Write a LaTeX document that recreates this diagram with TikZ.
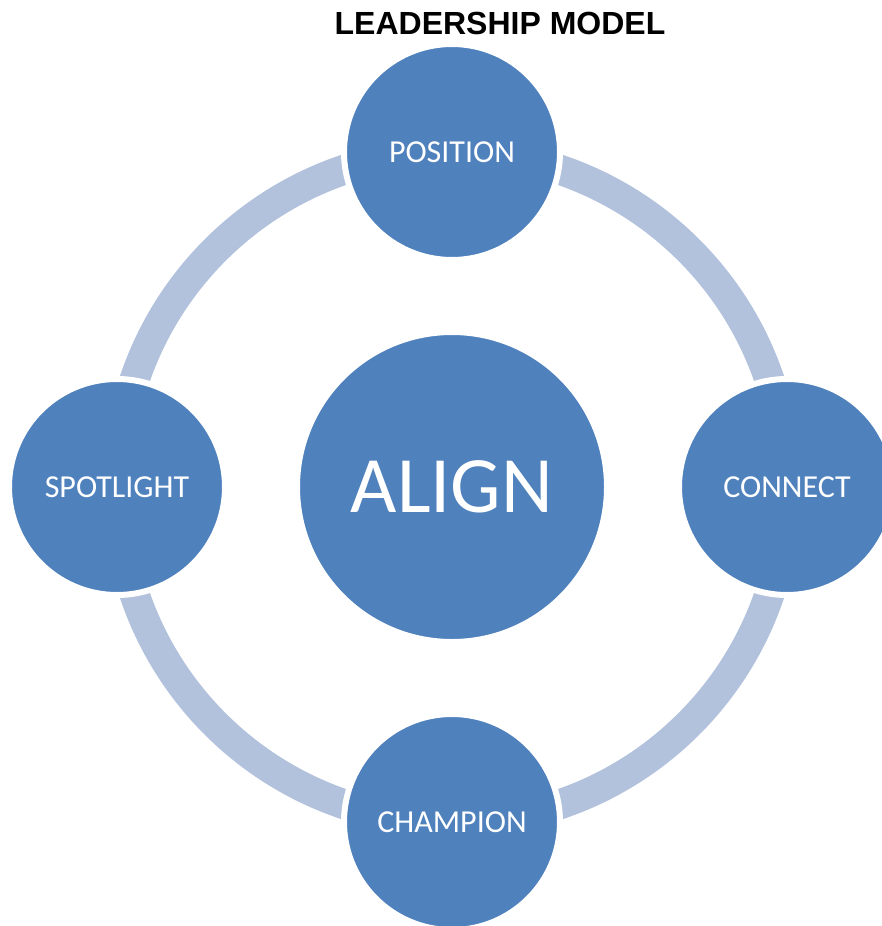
\documentclass[tikz,border=0pt]{standalone}
\usepackage{fontspec}
\setmainfont{Carlito}
\newfontfamily\titlefont{Liberation Sans}
\definecolor{hubblue}{HTML}{4F81BD}
\definecolor{ringblue}{HTML}{B2C1DC}
\tikzset{
  ringline/.style={draw=ringblue, line width=30pt},
  stage/.style={circle, fill=hubblue, draw=white, line width=6pt,
    minimum size=216pt, inner sep=0pt, text=white, font=\fontsize{32}{36}\selectfont},
  core/.style={stage, minimum size=310pt, font=\fontsize{80}{90}\selectfont},
  heading/.style={font=\titlefont\bfseries\fontsize{32}{36}\selectfont, text=black}
}
\begin{document}
\begin{tikzpicture}[x=1pt, y=-1pt]
  % page frame
  \useasboundingbox (0,0) rectangle (882,926);
  \clip (0,0) rectangle (882,926);
  \fill[white] (0,0) rectangle (882,926);

  % title
  \node[heading] (title) at (500,23) {LEADERSHIP MODEL};

  % centre hub and the ring that carries the four stages
  \node[core] (align) at (452,487) {ALIGN};
  \draw[ringline] (align.center) circle (335);

  % the four stages on the ring
  \node[stage] (position)  at (452,152) {POSITION};
  \node[stage] (connect)   at (787,487) {CONNECT};
  \node[stage] (champion)  at (452,822) {CHAMPION};
  \node[stage] (spotlight) at (117,487) {SPOTLIGHT};
\end{tikzpicture}
\end{document}
